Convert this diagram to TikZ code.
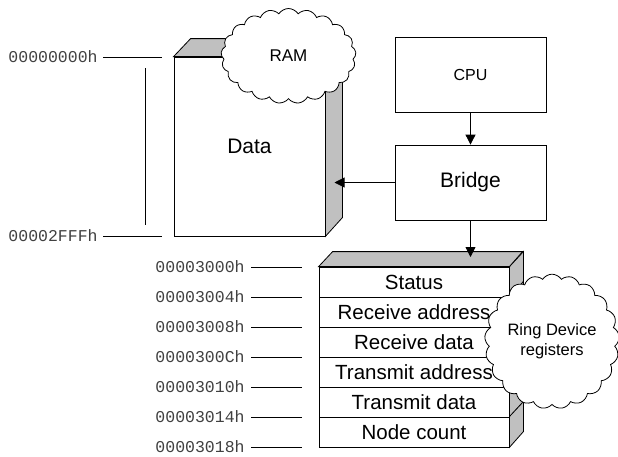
\documentclass[tikz,border=0pt]{standalone}
\usepackage{fontspec}
\setmainfont{Liberation Sans}
\newfontfamily\addrfont{Liberation Mono}
\usetikzlibrary{shapes.symbols,arrows.meta}
\definecolor{sidegray}{HTML}{C0C0C0}
\begin{document}
\begin{tikzpicture}[x=1pt,y=-1pt,line width=0.8pt]
  \tikzset{face/.style={draw=black, fill=white, inner sep=0pt},
    shade face/.style={draw=black, fill=sidegray, line join=miter},
    bubble/.style={cloud, cloud puffs=21, cloud puff arc=115, draw=black, fill=white, inner sep=0pt, align=center},
    addr/.style={anchor=east, inner sep=0pt, text=black!75, font=\addrfont\fontsize{16.5}{18}\selectfont},
    conn/.style={-{Triangle[length=10pt,width=10pt]}}}
  \useasboundingbox (0,0) rectangle (618,456);
  % memory block
  \node[face, minimum width=151pt, minimum height=179pt, font=\fontsize{21}{23}\selectfont] (data) at (249.5,146.5) {Data};
  \filldraw[shade face] (data.north west) -- ++(17,-18) -- ++(151,0) -- (data.north east) -- cycle;
  \filldraw[shade face] (data.north east) -- ++(17,-18) -- ++(0,179) -- (data.south east) -- cycle;
  \node[bubble, minimum width=135pt, minimum height=95pt, font=\fontsize{17}{19}\selectfont] (ram) at (288.5,56) {RAM};
  % address range of the memory
  \node[addr] (a0) at (98,57) {00000000h};
  \node[addr] (a1) at (98,236) {00002FFFh};
  \draw (a0.east) ++(5,0) -- ++(59,0);
  \draw (a1.east) ++(5,0) -- ++(59,0);
  \draw (145,68) -- (145,225);
  % cpu and bridge
  \node[face, minimum width=151pt, minimum height=75pt, font=\fontsize{16}{18}\selectfont] (cpu) at (470.5,74.5) {CPU};
  \node[face, minimum width=151pt, minimum height=75pt, font=\fontsize{21}{23}\selectfont] (bridge) at (470.5,182.5) {Bridge};
  \coordinate (memport) at (334.5,182.5);
  \coordinate (regport) at (470.5,257);
  \draw[conn] (cpu) -- (bridge);
  \draw[conn] (bridge.west) -- (memport);
  % register stack
  \foreach \name/\txt/\adr [count=\i from 0] in {st/Status/00003000h, ra/Receive address/00003004h, rd/Receive data/00003008h, ta/Transmit address/0000300Ch, td/Transmit data/00003010h, nc/Node count/00003014h} {
    \node[face, minimum width=190pt, minimum height=30pt, font=\fontsize{20.5}{22}\selectfont] (\name) at (414,282+30*\i) {\txt};
    \filldraw[shade face] (\name.north east) -- ++(14,-15) -- ++(0,30) -- (\name.south east) -- cycle;
    \node[addr] (r\i) at (245,267+30*\i) {\adr};
    \draw (r\i.east) ++(6,0) -- ++(51,0);
  }
  \filldraw[shade face] (st.north west) -- ++(14,-15) -- ++(190,0) -- (st.north east) -- cycle;
  \node[addr] (r6) at (245,447) {00003018h};
  \draw (r6.east) ++(6,0) -- ++(51,0);
  \draw[conn] (bridge.south) -- (regport);
  \node[bubble, minimum width=132pt, minimum height=93pt, font=\fontsize{16.5}{20}\selectfont] (ring) at (552,341.5) {Ring Device\\registers};
\end{tikzpicture}
\end{document}
